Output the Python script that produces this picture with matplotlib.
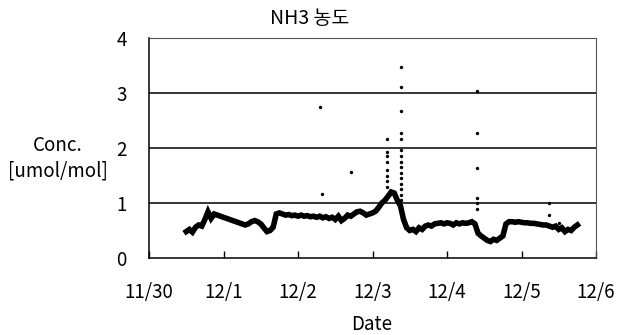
import numpy as np
import matplotlib
matplotlib.use("Agg")
import matplotlib.pyplot as plt

plt.rcParams['font.family'] = ['Noto Sans CJK KR', 'DejaVu Sans']
plt.rcParams['font.weight'] = 'light'

# hourly NH3 readings, starting 11/30 12:00 (days counted from 11/30 00:00)
start_day = 0.5
conc = [0.48, 0.52, 0.47, 0.56, 0.60, 0.58, 0.70, 0.84,
        0.72, 0.80, 0.78, 0.76, 0.74, 0.72, 0.70, 0.68,
        0.66, 0.64, 0.62, 0.60, 0.62, 0.66, 0.68, 0.66,
        0.62, 0.55, 0.48, 0.50, 0.56, 0.80, 0.82, 0.80,
        0.78, 0.79, 0.77, 0.78, 0.76, 0.78, 0.76, 0.77,
        0.75, 0.76, 0.74, 0.76, 0.73, 0.75, 0.72, 0.74,
        0.70, 0.76, 0.68, 0.72, 0.78, 0.76, 0.80, 0.84,
        0.85, 0.82, 0.78, 0.80, 0.82, 0.85, 0.92, 1.00,
        1.05, 1.12, 1.20, 1.18, 1.05, 0.95, 0.70, 0.55,
        0.50, 0.52, 0.48, 0.55, 0.52, 0.58, 0.60, 0.58,
        0.62, 0.63, 0.64, 0.62, 0.64, 0.63, 0.60, 0.64,
        0.62, 0.64, 0.63, 0.64, 0.66, 0.62, 0.45, 0.40,
        0.36, 0.32, 0.30, 0.34, 0.32, 0.36, 0.40, 0.62,
        0.66, 0.66, 0.65, 0.66, 0.65, 0.64, 0.64, 0.63,
        0.63, 0.62, 0.61, 0.60, 0.60, 0.58, 0.56, 0.58,
        0.52, 0.55, 0.48, 0.52, 0.50, 0.56, 0.60]

# isolated spike readings (day, value)
spike_day = [2.30, 2.32, 2.71,
             3.19, 3.19, 3.19, 3.19, 3.19, 3.19, 3.19, 3.19,
             3.38, 3.38, 3.38, 3.38, 3.38, 3.38, 3.38, 3.38,
             3.38, 3.38, 3.38, 3.38, 3.38, 3.38, 3.38,
             4.40, 4.40, 4.40, 4.40, 4.40, 4.40,
             5.37, 5.37, 5.51, 5.74]
spike_val = [2.75, 1.16, 1.57,
             2.16, 1.93, 1.85, 1.75, 1.60, 1.50, 1.40, 1.30,
             3.48, 3.11, 2.67, 2.28, 2.16, 1.96, 1.85, 1.75,
             1.65, 1.55, 1.45, 1.35, 1.25, 1.15, 1.05,
             3.03, 2.27, 1.63, 1.10, 1.00, 0.90,
             1.00, 0.78, 0.64, 0.62]

date_labels = ['11/30', '12/1', '12/2', '12/3', '12/4', '12/5', '12/6']

days = start_day + np.arange(len(conc)) / 24.0

fig = plt.figure(figsize=(6.19, 3.35), dpi=100)
ax = fig.add_axes([149 / 619, 1 - 258 / 335, 447 / 619, 220 / 335])

ax.plot(days, conc, color='black', lw=4, solid_joinstyle='miter')
ax.scatter(spike_day, spike_val, s=6, color='black', zorder=3, linewidths=0)

for g in [1, 2, 3]:
    ax.axhline(g, color='black', lw=1.1, zorder=1)

ax.set_xlim(0, 6)
ax.set_ylim(0, 4)
ax.set_xticks(range(7))
ax.set_xticklabels(date_labels)
ax.set_yticks(range(5))
ax.tick_params(axis='x', direction='in', length=5, width=1, pad=17, labelsize=13.5)
ax.tick_params(axis='y', length=0, pad=16, labelsize=13.5)

for side in ['top', 'right']:
    ax.spines[side].set_color('#555555')
    ax.spines[side].set_linestyle((0, (1, 1)))
    ax.spines[side].set_linewidth(0.8)
for side in ['left', 'bottom']:
    ax.spines[side].set_color('black')
    ax.spines[side].set_linewidth(1.1)

fig.text(310 / 619, 1 - 19 / 335, 'NH3 농도', ha='center', va='center', fontsize=14)
fig.text(58 / 619, 1 - 158 / 335, 'Conc.\n[umol/mol]', ha='center', va='center',
         fontsize=13.5, linespacing=1.25)
fig.text(372 / 619, 1 - 325 / 335, 'Date', ha='center', va='center', fontsize=13.5)

fig.savefig('out.png', dpi=100)
